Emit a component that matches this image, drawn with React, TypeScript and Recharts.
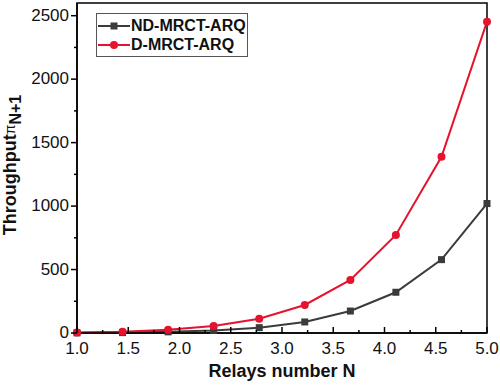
import React from 'react';
import { LineChart, Line, XAxis, YAxis, ReferenceArea, Label } from 'recharts';

// relays number N (x) and throughput values
const relays = [1.0, 1.444, 1.889, 2.333, 2.778, 3.222, 3.667, 4.111, 4.556, 5.0];
const ndMrctArq = [1, 3, 9, 20, 42, 87, 173, 321, 578, 1020];
const dMrctArq = [3, 10, 26, 55, 113, 221, 418, 773, 1388, 2453];

const xTicks = [1, 1.25, 1.5, 1.75, 2, 2.25, 2.5, 2.75, 3, 3.25, 3.5, 3.75, 4, 4.25, 4.5, 4.75, 5];
const yTicks = [0, 250, 500, 750, 1000, 1250, 1500, 1750, 2000, 2250, 2500];

const data = relays.map((n, i) => ({ n, nd: ndMrctArq[i], d: dMrctArq[i] }));

const GRAY = '#3b3b3b';
const RED = '#e5132d';
const FONT = 'Liberation Sans, Arial, sans-serif';

const XTick = (props: any) => {
    const { x, y, payload } = props;
    const major = Math.abs(payload.value * 2 - Math.round(payload.value * 2)) < 1e-6;
    return (
        <g>
            <line x1={x} x2={x} y1={y} y2={y - (major ? 6 : 3)} stroke="#000" strokeWidth={1.5} />
            {major && (
                <text x={x} y={y + 21} textAnchor="middle" fontSize={17} fontFamily={FONT} fill="#111">
                    {payload.value.toFixed(1)}
                </text>
            )}
        </g>
    );
};

const YTick = (props: any) => {
    const { x, y, payload } = props;
    const major = payload.value % 500 === 0;
    return (
        <g>
            <line x1={x} x2={x - (major ? 6 : 3)} y1={y} y2={y} stroke="#000" strokeWidth={1.5} />
            {major && (
                <text x={x - 8} y={y + 5} textAnchor="end" fontSize={17} fontFamily={FONT} fill="#111">
                    {payload.value}
                </text>
            )}
        </g>
    );
};

const SquareDot = (props: any) => {
    const { cx, cy } = props;
    if (cx == null || cy == null) return null;
    return <rect x={cx - 3.5} y={cy - 3.5} width={7} height={7} fill={GRAY} />;
};

const legendRows = [
    { name: 'ND-MRCT-ARQ', color: GRAY, square: true },
    { name: 'D-MRCT-ARQ', color: RED, square: false },
];

const LegendBox = () => (
    <div
        style={{
            position: 'absolute',
            left: 96,
            top: 13,
            border: '1px solid #555',
            background: '#fff',
            width: 150,
            padding: '2px 0',
        }}
    >
        {legendRows.map((r) => (
            <div key={r.name} style={{ display: 'flex', alignItems: 'center', height: 19 }}>
                <svg width={34} height={12}>
                    <line x1={1} x2={33} y1={6} y2={6} stroke={r.color} strokeWidth={2} />
                    {r.square ? (
                        <rect x={13.5} y={2.5} width={7} height={7} fill={r.color} />
                    ) : (
                        <circle cx={17} cy={6} r={4} fill={r.color} />
                    )}
                </svg>
                <span style={{ fontFamily: FONT, fontWeight: 'bold', fontSize: 16, color: '#111' }}>{r.name}</span>
            </div>
        ))}
    </div>
);

const YTitle = (props: any) => {
    const { viewBox } = props;
    const cx = 10;
    const cy = viewBox.y + viewBox.height / 2 - 3;
    return (
        <text
            x={cx}
            y={cy}
            transform={`rotate(-90, ${cx}, ${cy})`}
            textAnchor="middle"
            dominantBaseline="central"
            fontFamily={FONT}
            fontWeight="bold"
            fontSize={18}
            fill="#111"
        >
            Throughput
            <tspan fontWeight="normal" fontSize={14}>π</tspan>
            <tspan dy={5} fontSize={16}>N+1</tspan>
        </text>
    );
};

const XTitle = (props: any) => {
    const { viewBox } = props;
    return (
        <text
            x={viewBox.x + viewBox.width / 2}
            y={viewBox.y + 44}
            textAnchor="middle"
            fontFamily={FONT}
            fontWeight="bold"
            fontSize={18}
            fill="#111"
        >
            Relays number N
        </text>
    );
};

export default function App() {
    return (
        <div style={{ position: 'absolute', left: 0, top: 0, width: 500, height: 389, background: '#fff' }}>
            <LineChart width={500} height={389} data={data} margin={{ top: 3, right: 13, left: 0, bottom: 0 }}>
                <XAxis
                    dataKey="n"
                    type="number"
                    domain={[1, 5]}
                    ticks={xTicks}
                    interval={0}
                    tickSize={0}
                    tickMargin={0}
                    tick={<XTick />}
                    height={56}
                    axisLine={{ stroke: '#000', strokeWidth: 1.5 }}
                >
                    <Label content={<XTitle />} />
                </XAxis>
                <YAxis
                    type="number"
                    domain={[0, 2600]}
                    ticks={yTicks}
                    interval={0}
                    tickSize={0}
                    tickMargin={0}
                    tick={<YTick />}
                    width={77}
                    axisLine={{ stroke: '#000', strokeWidth: 1.5 }}
                >
                    <Label content={<YTitle />} />
                </YAxis>
                <ReferenceArea x1={1} x2={5} y1={0} y2={2600} fill="none" stroke="#000" strokeWidth={1.5} />
                <Line
                    dataKey="nd"
                    name="ND-MRCT-ARQ"
                    stroke={GRAY}
                    strokeWidth={2}
                    dot={<SquareDot />}
                    isAnimationActive={false}
                />
                <Line
                    dataKey="d"
                    name="D-MRCT-ARQ"
                    stroke={RED}
                    strokeWidth={2}
                    dot={{ r: 4, fill: RED, stroke: RED, strokeWidth: 0 }}
                    isAnimationActive={false}
                />
            </LineChart>
            <LegendBox />
        </div>
    );
}
